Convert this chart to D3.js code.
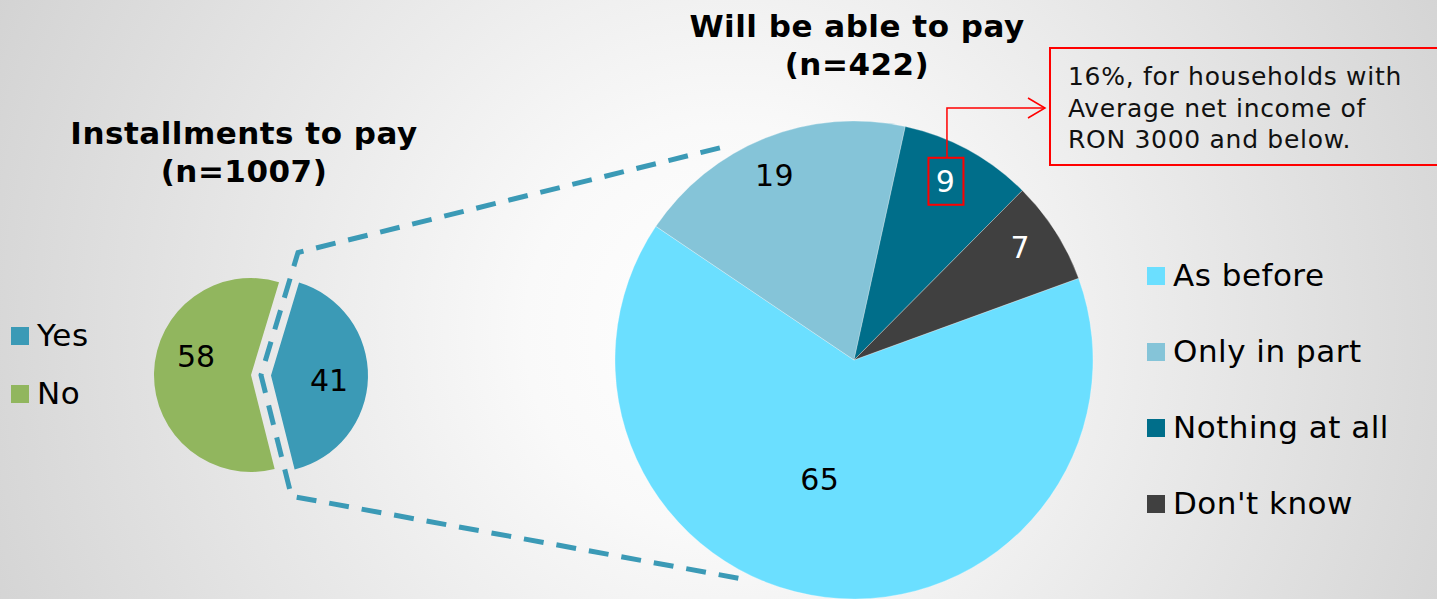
<!DOCTYPE html>
<html>
<head>
<meta charset="utf-8">
<script src="https://cdn.jsdelivr.net/npm/d3@7"></script>
<style>
  body { margin: 0; overflow: hidden; }
  text { font-family: "DejaVu Sans", Verdana, sans-serif; }
</style>
</head>
<body>
<div id="chart"></div>
<script>
var svgWidth = 1437;
var svgHeight = 599;

// left pie: installments to pay
var leftTitle = ["Installments to pay", "(n=1007)"];
var leftCats = ["Yes", "No"];
var leftValues = [41, 58];
var leftColors = ["#3b9ab6", "#91b65e"];

// right pie: will be able to pay
var rightTitle = ["Will be able to pay", "(n=422)"];
var rightCats = ["As before", "Only in part", "Nothing at all", "Don't know"];
var rightValues = [65, 19, 9, 7];
var rightColors = ["#6bdfff", "#85c4d8", "#006e8a", "#404040"];
var rightLabelColors = ["#000", "#000", "#fff", "#fff"];

var noteLines = ["16%, for households with", "Average net income of", "RON 3000 and below."];

var deg = Math.PI / 180;

var svg = d3.select("#chart")
  .append("svg")
  .attr("width", svgWidth)
  .attr("height", svgHeight);

// background radial gradient
var grad = svg.append("defs").append("radialGradient")
  .attr("id", "bg")
  .attr("gradientUnits", "userSpaceOnUse")
  .attr("cx", 730).attr("cy", 330).attr("r", 820);
grad.append("stop").attr("offset", "0").attr("stop-color", "#ffffff");
grad.append("stop").attr("offset", "0.25").attr("stop-color", "#f9f9f9");
grad.append("stop").attr("offset", "1").attr("stop-color", "#d2d2d2");

svg.append("rect")
  .attr("width", svgWidth)
  .attr("height", svgHeight)
  .attr("fill", "url(#bg)");

function polar(cx, cy, r, a) {
  return [cx + r * Math.sin(a), cy - r * Math.cos(a)];
}

// ---------- left pie ----------
var L = { cx: 251, cy: 375, r: 97, explode: 20 };

var leftPie = d3.pie().sort(null).startAngle(16.8 * deg).endAngle(376.8 * deg);
var leftArcs = leftPie(leftValues);
var leftArc = d3.arc().innerRadius(0).outerRadius(L.r);

// offset of each slice (only "Yes" is pulled out)
function leftOffset(d, i) {
  if (i !== 0) return [0, 0];
  var mid = (d.startAngle + d.endAngle) / 2;
  return polar(0, 0, L.explode, mid);
}

var leftG = svg.append("g").attr("transform", `translate(${L.cx},${L.cy})`);

leftG.selectAll("path")
  .data(leftArcs)
  .enter()
  .append("path")
  .attr("d", leftArc)
  .attr("fill", (d, i) => leftColors[i])
  .attr("transform", function(d, i) {
    var o = leftOffset(d, i);
    return `translate(${o[0]},${o[1]})`;
  });

leftG.selectAll("text.val")
  .data(leftArcs)
  .enter()
  .append("text")
  .attr("class", "val")
  .attr("text-anchor", "middle")
  .attr("dy", "0.36em")
  .style("font-size", "30px")
  .attr("transform", function(d, i) {
    var mid = (d.startAngle + d.endAngle) / 2;
    var shift = i === 0 ? 3 * deg : 18 * deg;
    var o = leftOffset(d, i);
    var q = polar(o[0], o[1], L.r * 0.6, mid + shift);
    return `translate(${q[0]},${q[1]})`;
  })
  .text(d => d.value);

// gap between the two slices, used by the dashed connector
var gapA = leftArcs[0].startAngle, gapB = leftArcs[0].endAngle;
var gx = L.cx + L.explode / 2, gy = L.cy;

// ---------- right pie ----------
var R = { cx: 854, cy: 360, r: 239 };

var rightPie = d3.pie().sort(null).startAngle(70 * deg).endAngle(430 * deg);
var rightArcs = rightPie(rightValues);
var rightArc = d3.arc().innerRadius(0).outerRadius(R.r);

var conn = [
  polar(R.cx, R.cy, R.r + 12, 327.7 * deg),
  polar(gx, gy, 128, gapA),
  [gx, gy],
  polar(gx, gy, 125, gapB),
  polar(R.cx, R.cy, R.r + 6, 206.4 * deg)
];

svg.append("path")
  .attr("d", d3.line()(conn))
  .attr("fill", "none")
  .attr("stroke", "#3b9ab6")
  .attr("stroke-width", 5)
  .attr("stroke-dasharray", "20,13");

var rightG = svg.append("g").attr("transform", `translate(${R.cx},${R.cy})`);

rightG.selectAll("path")
  .data(rightArcs)
  .enter()
  .append("path")
  .attr("d", rightArc)
  .attr("fill", (d, i) => rightColors[i])
  .attr("stroke", "#ffffff")
  .attr("stroke-opacity", 0.35)
  .attr("stroke-width", 0.8);

var rightLabelPos = rightArcs.map(function(d, i) {
  var mid = (d.startAngle + d.endAngle) / 2;
  if (i === 0) return polar(0, 0, R.r * 0.52, mid + 9 * deg);
  return polar(0, 0, R.r * 0.84, mid - 1.5 * deg);
});

rightG.selectAll("text.val")
  .data(rightArcs)
  .enter()
  .append("text")
  .attr("class", "val")
  .attr("text-anchor", "middle")
  .attr("dy", "0.36em")
  .style("font-size", "30px")
  .style("letter-spacing", "0.5px")
  .attr("fill", (d, i) => rightLabelColors[i])
  .attr("x", (d, i) => rightLabelPos[i][0])
  .attr("y", (d, i) => rightLabelPos[i][1])
  .text(d => d.value);

// highlight box round "Nothing at all" label + callout
var hp = rightLabelPos[2];
var hx = R.cx + hp[0], hy = R.cy + hp[1];
svg.append("rect")
  .attr("x", hx - 17).attr("y", hy - 23.5)
  .attr("width", 35).attr("height", 47)
  .attr("fill", "none")
  .attr("stroke", "#ff0000")
  .attr("stroke-width", 2);

var note = { x: 1050, y: 48, w: 420, h: 117 };
var arrowY = 108;
svg.append("path")
  .attr("d", d3.line()([[hx + 1.5, hy - 23.5], [hx + 1.5, arrowY], [note.x - 5, arrowY]]))
  .attr("fill", "none")
  .attr("stroke", "#ff0000")
  .attr("stroke-width", 1.5);
svg.append("path")
  .attr("d", d3.line()([[note.x - 22, arrowY - 10], [note.x - 5, arrowY], [note.x - 22, arrowY + 10]]))
  .attr("fill", "none")
  .attr("stroke", "#ff0000")
  .attr("stroke-width", 1.5);

svg.append("rect")
  .attr("x", note.x).attr("y", note.y)
  .attr("width", note.w).attr("height", note.h)
  .attr("fill", "none")
  .attr("stroke", "#ff0000")
  .attr("stroke-width", 2);

svg.append("g").selectAll("text")
  .data(noteLines)
  .enter()
  .append("text")
  .attr("x", 1068)
  .attr("y", (d, i) => 85 + i * 31.5)
  .style("font-size", "25px")
  .style("letter-spacing", "0.7px")
  .attr("fill", "#111")
  .text(d => d);

// ---------- titles ----------
function title(lines, x, y) {
  svg.append("g").selectAll("text")
    .data(lines)
    .enter()
    .append("text")
    .attr("x", x)
    .attr("y", (d, i) => y + i * 38)
    .attr("text-anchor", "middle")
    .style("font-size", "31px")
    .style("font-weight", "bold")
    .style("letter-spacing", "0.5px")
    .text(d => d);
}
title(leftTitle, 244, 144);
title(rightTitle, 857, 37);

// ---------- legends ----------
function legend(cats, colors, x, y, step) {
  var g = svg.append("g");
  var item = g.selectAll("g")
    .data(cats)
    .enter()
    .append("g")
    .attr("transform", (d, i) => `translate(${x},${y + i * step})`);
  item.append("rect")
    .attr("x", 0).attr("y", -19)
    .attr("width", 18).attr("height", 18)
    .attr("fill", (d, i) => colors[i]);
  item.append("text")
    .attr("x", 26)
    .attr("y", 0)
    .style("font-size", "31px")
    .style("letter-spacing", "0.5px")
    .text(d => d);
}
legend(leftCats, leftColors, 11, 346, 58);
legend(rightCats, rightColors, 1147, 286, 76);
</script>
</body>
</html>
